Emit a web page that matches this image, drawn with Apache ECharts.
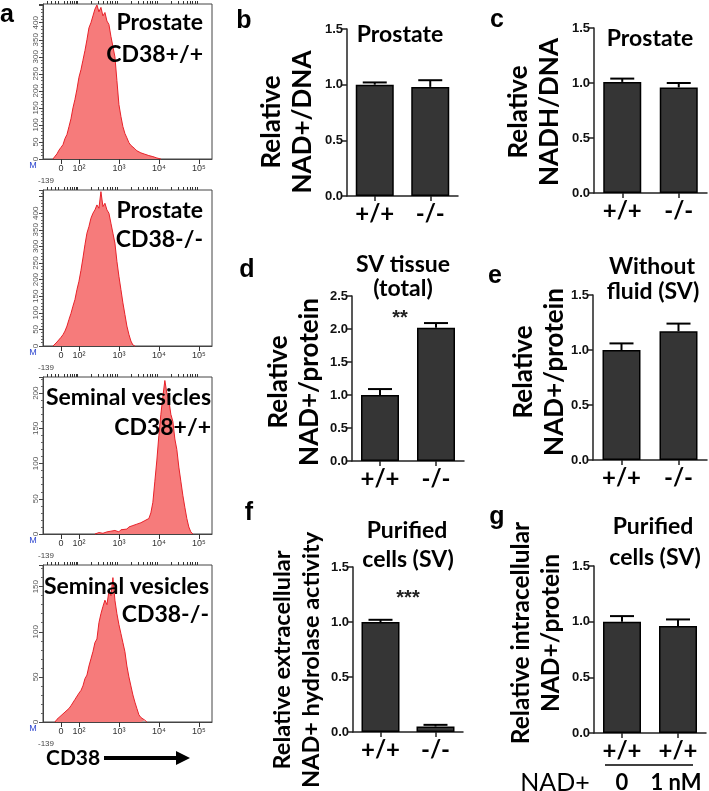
<!DOCTYPE html>
<html><head><meta charset="utf-8">
<script src="https://cdn.jsdelivr.net/npm/echarts@6/dist/echarts.min.js"></script>
<style>html,body{margin:0;padding:0;background:#fff}#c{width:709px;height:791px}</style>
</head><body><div id="c"></div>
<script>
// ---------- DATA ----------
// Flow cytometry histograms: [CD38 (display decade units), count]
const histProstateWT = [[1.35,0],[1.40,8],[1.45,15],[1.50,26],[1.55,34],[1.60,42],[1.65,60],[1.70,72],[1.75,95],[1.80,118],[1.85,150],[1.90,175],[1.95,205],[2.00,240],[2.05,262],[2.10,290],[2.15,318],[2.20,350],[2.25,385],[2.30,400],[2.35,420],[2.40,440],[2.45,452],[2.50,432],[2.55,445],[2.60,420],[2.65,430],[2.70,405],[2.75,395],[2.80,360],[2.85,330],[2.90,300],[2.95,230],[3.00,160],[3.05,125],[3.10,95],[3.15,75],[3.20,62],[3.25,48],[3.30,40],[3.35,35],[3.40,30],[3.45,24],[3.50,22],[3.55,18],[3.60,16],[3.65,14],[3.70,11],[3.75,10],[3.80,8],[3.85,7],[3.90,5],[3.95,3],[4.00,1],[4.05,0]];
const histProstateKO = [[1.35,0],[1.40,6],[1.45,12],[1.50,18],[1.55,26],[1.60,34],[1.65,45],[1.70,60],[1.75,80],[1.80,98],[1.85,120],[1.90,140],[1.95,170],[2.00,195],[2.05,228],[2.10,265],[2.15,305],[2.20,340],[2.25,360],[2.30,385],[2.35,400],[2.40,410],[2.45,425],[2.50,415],[2.55,465],[2.60,420],[2.65,430],[2.70,410],[2.75,400],[2.80,370],[2.85,340],[2.90,310],[2.95,255],[3.00,210],[3.05,170],[3.10,130],[3.15,95],[3.20,60],[3.25,35],[3.30,15],[3.35,3],[3.40,0]];
const histSVWT = [[2.40,0],[2.50,2],[2.60,1],[2.70,3],[2.80,4],[2.90,5],[3.00,3],[3.05,6],[3.10,8],[3.20,7],[3.25,10],[3.30,9],[3.35,12],[3.40,11],[3.45,14],[3.50,12],[3.55,16],[3.60,15],[3.65,19],[3.70,17],[3.75,22],[3.80,30],[3.85,45],[3.90,75],[3.95,105],[4.00,140],[4.05,170],[4.10,195],[4.15,218],[4.20,200],[4.25,190],[4.30,170],[4.35,160],[4.40,135],[4.45,120],[4.50,95],[4.55,75],[4.60,55],[4.65,38],[4.70,22],[4.75,10],[4.80,3],[4.85,0]];
const histSVKO = [[1.40,0],[1.45,3],[1.50,5],[1.55,7],[1.60,8],[1.65,11],[1.70,13],[1.75,15],[1.80,18],[1.85,20],[1.90,25],[1.95,24],[2.00,32],[2.05,35],[2.10,40],[2.15,48],[2.20,52],[2.25,62],[2.30,70],[2.35,78],[2.40,88],[2.45,92],[2.50,110],[2.55,120],[2.60,128],[2.65,135],[2.70,130],[2.75,145],[2.80,140],[2.85,160],[2.90,135],[2.95,120],[3.00,108],[3.05,98],[3.10,88],[3.15,78],[3.20,62],[3.25,50],[3.30,40],[3.35,30],[3.40,22],[3.45,15],[3.50,8],[3.55,5],[3.60,3],[3.65,2],[3.70,0]];
const histLabels = [['Prostate','CD38+/+'],['Prostate','CD38-/-'],['Seminal vesicles','CD38+/+'],['Seminal vesicles','CD38-/-']];
const histYMax = [455, 470, 223, 174];
const histYLabelMax = [400, 400, 200, 150];
const histXTickVals = [1.55, 2, 3, 4, 5];
const histXTickText = ['0', '10\u00B2', '10\u00B3', '10\u2074', '10\u2075'];

// Bar panels
const genoCats = ['+/+', '-/-'];
const nadCats = ['+/+', '+/+'];
const bMean = [1.00, 0.98], bErr = [0.02, 0.06];
const cMean = [1.01, 0.96], cErr = [0.03, 0.04];
const dMean = [1.00, 2.02], dErr = [0.09, 0.07];
const eMean = [1.00, 1.17], eErr = [0.06, 0.07];
const fMean = [1.00, 0.05], fErr = [0.02, 0.015];
const gMean = [1.00, 0.96], gErr = [0.05, 0.06];
const yMaxB = 1.5, yMaxC = 1.5, yMaxD = 2.5, yMaxE = 1.5, yMaxF = 1.5, yMaxG = 1.5;

// ---------- LAYOUT ----------
const chart = echarts.init(document.getElementById('c'), null, {renderer: 'canvas'});
const histGrids = [
  {left: 43, top: 4, width: 169, height: 155},
  {left: 43, top: 190, width: 169, height: 156},
  {left: 43, top: 377, width: 169, height: 157},
  {left: 43, top: 565, width: 169, height: 157}
];
const barGrids = [
  {left: 347, top: 29, width: 111, height: 167},
  {left: 594, top: 28, width: 113, height: 165},
  {left: 352, top: 296, width: 112, height: 165},
  {left: 593, top: 295, width: 114, height: 165},
  {left: 353, top: 567, width: 110, height: 165},
  {left: 594, top: 566, width: 112, height: 167}
];
const barPanels = [
  {cats: genoCats, mean: bMean, err: bErr, max: yMaxB},
  {cats: genoCats, mean: cMean, err: cErr, max: yMaxC},
  {cats: genoCats, mean: dMean, err: dErr, max: yMaxD},
  {cats: genoCats, mean: eMean, err: eErr, max: yMaxE},
  {cats: genoCats, mean: fMean, err: fErr, max: yMaxF},
  {cats: nadCats, mean: gMean, err: gErr, max: yMaxG}
];

const grids = [], xAxes = [], yAxes = [], series = [];
const histData = [histProstateWT, histProstateKO, histSVWT, histSVKO];

// minor tick positions on the flow x axis (decorations)
const minorX = [1.2, 1.3, 1.4, 1.47, 1.62, 1.7, 1.77, 1.83, 1.88, 1.92, 1.96];
for (let k = 2; k <= 4; k++) for (let m = 2; m <= 9; m++) minorX.push(k + Math.log10(m));

histGrids.forEach((g, i) => {
  grids.push(Object.assign({show: true, borderColor: '#444', borderWidth: 1, backgroundColor: '#fff'}, g));
  xAxes.push({
    type: 'value', gridIndex: i, min: 1.1, max: 5.33,
    splitLine: {show: false},
    axisLine: {show: true, lineStyle: {color: '#444', width: 1}},
    axisTick: {show: true, customValues: histXTickVals, length: 5, lineStyle: {color: '#333'}},
    axisLabel: {show: true, customValues: histXTickVals, margin: 5, fontSize: 9, color: '#333', fontFamily: 'Liberation Sans',
      formatter: v => { const j = histXTickVals.findIndex(t => Math.abs(t - v) < 1e-6); return j >= 0 ? histXTickText[j] : ''; }}
  });
  xAxes.push({
    type: 'value', gridIndex: i, min: 1.1, max: 5.33,
    splitLine: {show: false}, axisLine: {show: false},
    axisTick: {show: true, customValues: minorX, length: 3, lineStyle: {color: '#333'}},
    axisLabel: {show: false}
  });
  yAxes.push({
    type: 'value', gridIndex: i, min: 0, max: histYMax[i], interval: 50,
    splitLine: {show: false},
    axisLine: {show: true, lineStyle: {color: '#444'}},
    axisTick: {show: true, length: 4, lineStyle: {color: '#444'}},
    minorTick: {show: true, splitNumber: 5, length: 2, lineStyle: {color: '#666'}},
    axisLabel: {rotate: 90, fontSize: 8, color: '#555', margin: 3, fontFamily: 'Liberation Sans',
      formatter: v => (v <= histYLabelMax[i] ? String(v) : '')}
  });
  series.push({
    type: 'line', xAxisIndex: 2 * i, yAxisIndex: i, data: histData[i],
    symbol: 'none', smooth: false, clip: false,
    lineStyle: {color: '#e8222a', width: 1},
    areaStyle: {color: '#f67b7b', opacity: 1}
  });
});

barGrids.forEach((g, j) => {
  const gi = 4 + j, p = barPanels[j];
  grids.push(Object.assign({show: false}, g));
  xAxes.push({
    type: 'category', gridIndex: gi, data: p.cats, boundaryGap: true,
    axisLine: {show: true, lineStyle: {color: '#222', width: 1.5}},
    axisTick: {show: true, alignWithLabel: true, length: 5, lineStyle: {color: '#222', width: 1.5}},
    axisLabel: {margin: 6, fontSize: 24, fontWeight: 'bold', color: '#000', fontFamily: 'Lato', interval: 0}
  });
  yAxes.push({
    type: 'value', gridIndex: gi, min: 0, max: p.max, interval: 0.5,
    splitLine: {show: false},
    axisLine: {show: true, lineStyle: {color: '#222', width: 1.5}},
    axisTick: {show: true, length: 5, lineStyle: {color: '#222', width: 1.5}},
    axisLabel: {margin: 4, fontSize: 13, fontWeight: 'bold', color: '#111', fontFamily: 'Liberation Sans',
      formatter: v => v.toFixed(1)}
  });
  series.push({
    type: 'bar', xAxisIndex: 8 + j, yAxisIndex: gi, data: p.mean, barWidth: 38,
    itemStyle: {color: '#353535', borderColor: '#000', borderWidth: 1.5}
  });
  series.push({
    type: 'custom', xAxisIndex: 8 + j, yAxisIndex: gi, z: 5,
    data: p.mean.map((m, k) => [k, m, p.err[k]]),
    encode: {x: 0, y: 1},
    renderItem: (params, api) => {
      const x = api.value(0), m = api.value(1), e = api.value(2);
      const p0 = api.coord([x, m]), p1 = api.coord([x, m + e]);
      return {type: 'group', children: [
        {type: 'line', shape: {x1: p0[0], y1: p0[1], x2: p1[0], y2: p1[1]}, style: {stroke: '#000', lineWidth: 2}},
        {type: 'line', shape: {x1: p1[0] - 12, y1: p1[1], x2: p1[0] + 12, y2: p1[1]}, style: {stroke: '#000', lineWidth: 2}}
      ]};
    }
  });
});

// ---------- TEXT ----------
const T = (x, y, text, o) => Object.assign({type: 'text', x: x, y: y, z: 100,
  style: Object.assign({text: text, fill: '#000', textAlign: 'center', textVerticalAlign: 'middle',
    fontFamily: 'Lato', fontWeight: 'bold', fontSize: 22}, o && o.style)}, o && o.el);
const graphics = [];
// panel letters
[['a', 7, 15], ['b', 244, 21], ['c', 497, 20], ['d', 247, 270], ['e', 495, 276], ['f', 249, 513], ['g', 497, 517]]
  .forEach(a => graphics.push(T(a[1], a[2], a[0], {style: {fontFamily: 'Liberation Sans', fontSize: 25}})));
// histogram labels
const histLabelPos = [[203, 23, 55], [203, 211, 240], [211, 398, 428], [209, 587, 615]];
histLabels.forEach((l, i) => {
  const p = histLabelPos[i];
  graphics.push(T(p[0], p[1], l[0], {style: {textAlign: 'right', fontSize: 23}}));
  graphics.push(T(p[0], p[2], l[1], {style: {textAlign: 'right', fontSize: 23}}));
});
// M and -139
histGrids.forEach(g => {
  const b = g.top + g.height;
  graphics.push(T(33, b + 7, 'M', {style: {fontFamily: 'Liberation Sans', fontWeight: 'normal', fontSize: 9, fill: '#3048d0'}}));
  graphics.push(T(46, b + 22, '-139', {style: {fontFamily: 'Liberation Sans', fontWeight: 'normal', fontSize: 8, fill: '#444'}}));
});
// CD38 arrow
graphics.push(T(46, 758, 'CD38', {style: {textAlign: 'left', fontSize: 21}}));
graphics.push({type: 'line', z: 100, shape: {x1: 104, y1: 758, x2: 178, y2: 758}, style: {stroke: '#000', lineWidth: 4}});
graphics.push({type: 'polygon', z: 100, shape: {points: [[176, 751], [190, 758], [176, 765]]}, style: {fill: '#000'}});
// bar titles
const titles = [
  [400, 35, 'Prostate'], [650, 39, 'Prostate'],
  [403, 265, 'SV tissue'], [403, 289, '(total)'],
  [652, 267, 'Without'], [653, 292, 'fluid (SV)'],
  [407, 531, 'Purified'], [408, 560, 'cells (SV)'],
  [653, 527, 'Purified'], [655, 558, 'cells (SV)']
];
titles.forEach(t => graphics.push(T(t[0], t[1], t[2], {style: {fontSize: 23}})));
graphics.push(T(400, 318, '**', {style: {fontFamily: 'Liberation Sans', fontSize: 20, fill: '#222'}}));
graphics.push(T(408, 598, '***', {style: {fontFamily: 'Liberation Sans', fontSize: 20, fill: '#222'}}));
// y axis names (rotated)
const ynames = [
  [287, 122, 'Relative\nNAD+/DNA', 26], [534, 112, 'Relative\nNADH/DNA', 26],
  [294, 382, 'Relative\nNAD+/protein', 26], [539, 372, 'Relative\nNAD+/protein', 26],
  [297, 660, 'Relative extracellular\nNAD+ hydrolase activity', 23.5], [536, 633, 'Relative intracellular\nNAD+/protein', 24.5]
];
ynames.forEach(t => graphics.push(T(t[0], t[1], t[2], {el: {rotation: Math.PI / 2}, style: {fontSize: t[3], lineHeight: t[3] + 5}})));
// g: treatment row
graphics.push({type: 'line', z: 100, shape: {x1: 605, y1: 765, x2: 693, y2: 765}, style: {stroke: '#000', lineWidth: 1.5}});
graphics.push(T(555, 783, 'NAD+', {style: {fontWeight: 'normal', fontSize: 25}}));
graphics.push(T(622, 783, '0', {style: {fontSize: 22}}));
graphics.push(T(676, 783, '1 nM', {style: {fontSize: 22}}));

chart.setOption({
  animation: false,
  backgroundColor: '#fff',
  grid: grids, xAxis: xAxes, yAxis: yAxes, series: series,
  graphic: {elements: graphics}
});
</script></body></html>
